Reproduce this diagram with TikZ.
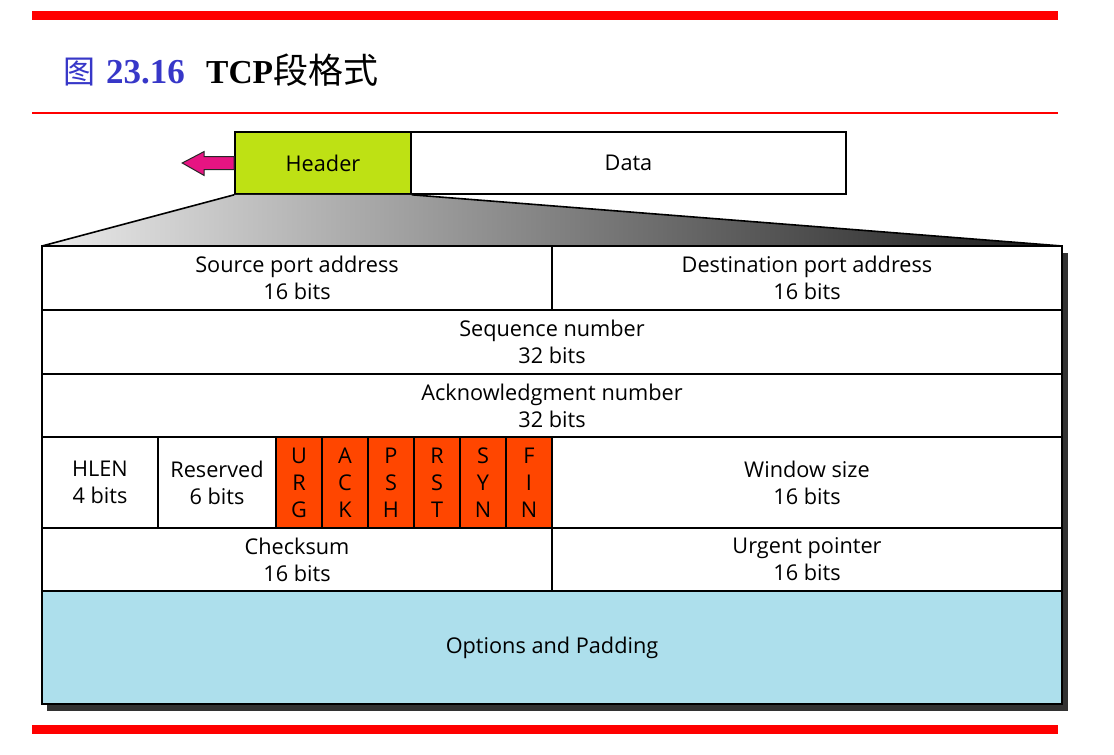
\documentclass[tikz,border=0pt]{standalone}
\usepackage{fontspec}
\setmainfont{Open Sans}
\newfontfamily\titlefont{Liberation Serif}
\newfontfamily\cjkfont{Noto Sans CJK SC}
\usetikzlibrary{calc}
\definecolor{redbar}{RGB}{255,0,0}
\definecolor{titleblue}{RGB}{55,55,200}
\definecolor{hdrlime}{RGB}{190,225,20}
\definecolor{arrowpink}{RGB}{230,20,130}
\definecolor{flagred}{RGB}{255,70,0}
\definecolor{optblue}{RGB}{173,223,236}
\definecolor{shadowgray}{RGB}{50,50,50}
\tikzset{
  field/.style={draw, line width=1.6pt, inner sep=0pt, align=center,
    font=\fontsize{21.7}{27}\selectfont},
  flagbox/.style={field, fill=flagred, minimum width=46pt, minimum height=91pt},
}
\begin{document}
\begin{tikzpicture}[x=1pt,y=-1pt]
\useasboundingbox (0,0) rectangle (1114,755);
% bars
\fill[redbar] (32,11) rectangle (1058,20);
\fill[redbar] (32,725) rectangle (1058,734);
\draw[redbar, line width=2pt] (32,113) -- (1058,113);
% title
\node[anchor=base west, inner sep=0pt, text=titleblue] (tfig) at (63,83)
  {\cjkfont\fontsize{32}{32}\selectfont 图};
\node[anchor=base west, inner sep=0pt, text=titleblue] (tnum) at (106,83)
  {\titlefont\bfseries\fontsize{35}{35}\selectfont 23.16};
\node[anchor=base west, inner sep=0pt] (tname) at (206,83)
  {\titlefont\bfseries\fontsize{33.5}{33.5}\selectfont TCP\cjkfont\mdseries\fontsize{35}{35}\selectfont 段格式};
% shadow of the header box
\fill[shadowgray] (47,253) rectangle (1068,711);
% top segment
\node[field, fill=hdrlime, minimum width=176pt, minimum height=62pt] (hdr) at (323,163) {Header};
\node[field, minimum width=435pt, minimum height=62pt] (data) at (628.5,163) {Data};
% arrow
\filldraw[fill=arrowpink, draw=black!85, line width=1pt]
  ($(hdr.west)+(0,-6.5)$) -- ++(-30,0) -- ++(0,-5) -- ($(hdr.west)+(-52,0)$)
  -- ($(hdr.west)+(-30,12.5)$) -- ++(0,-6) -- ($(hdr.west)+(0,6.5)$) -- cycle;
% expansion trapezoid
\coordinate (tl) at (42,246);
\coordinate (tr) at (1062,246);
\shade[left color=black!8, right color=black!90]
  (hdr.south west) -- (hdr.south east) -- (tr) -- (tl) -- cycle;
\draw[line width=1.6pt] (tl) -- (hdr.south west);
\draw[line width=1.6pt] (hdr.south east) -- (tr);
% rows
\node[field, fill=white, minimum width=510pt, minimum height=64pt] (src) at (297,278) {Source port address\\16 bits};
\node[field, fill=white, minimum width=510pt, minimum height=64pt] (dst) at (807,278) {Destination port address\\16 bits};
\node[field, fill=white, minimum width=1020pt, minimum height=64pt] (seq) at (552,342) {Sequence number\\32 bits};
\node[field, fill=white, minimum width=1020pt, minimum height=63pt] (ack) at (552,405.5) {Acknowledgment number\\32 bits};
\node[field, fill=white, minimum width=116pt, minimum height=91pt] (hlen) at (100,482.5) {HLEN\\4 bits};
\node[field, fill=white, minimum width=118pt, minimum height=91pt] (res) at (217,482.5) {Reserved\\6 bits};
\node[flagbox] (urg) at (299,482.5) {U\\R\\G};
\node[flagbox] (ackf) at (345,482.5) {A\\C\\K};
\node[flagbox] (psh) at (391,482.5) {P\\S\\H};
\node[flagbox] (rst) at (437,482.5) {R\\S\\T};
\node[flagbox] (syn) at (483,482.5) {S\\Y\\N};
\node[flagbox] (fin) at (529,482.5) {F\\I\\N};
\node[field, fill=white, minimum width=510pt, minimum height=91pt] (win) at (807,482.5) {Window size\\16 bits};
\node[field, fill=white, minimum width=510pt, minimum height=63pt] (chk) at (297,559.5) {Checksum\\16 bits};
\node[field, fill=white, minimum width=510pt, minimum height=63pt] (urgp) at (807,559.5) {Urgent pointer\\16 bits};
\node[field, fill=optblue, minimum width=1020pt, minimum height=113pt] (opt) at (552,647.5) {Options and Padding};
\end{tikzpicture}
\end{document}
